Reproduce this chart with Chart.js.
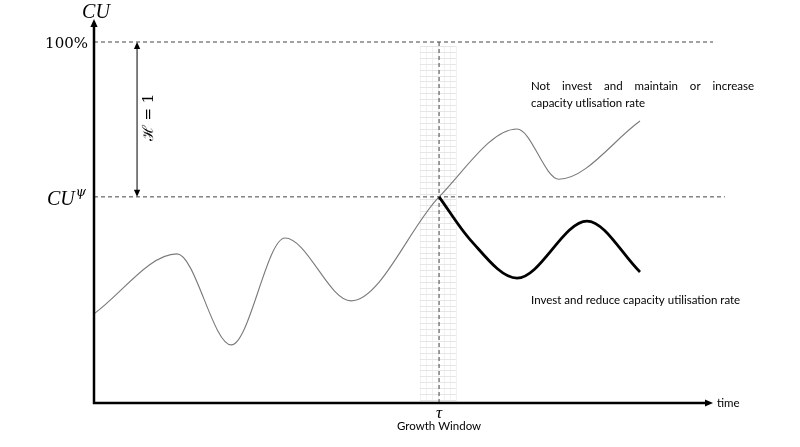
<!DOCTYPE html>
<html>
<head>
<meta charset="utf-8">
<script src="https://cdn.jsdelivr.net/npm/chart.js@4.4.0/dist/chart.umd.min.js"></script>
<style>
  html, body { margin: 0; padding: 0; background: #fff; }
  #wrap { width: 800px; height: 447px; }
</style>
</head>
<body>
<div id="wrap"><canvas id="cuChart" width="800" height="447"></canvas></div>
<script>
// Capacity utilisation paths (time 0..100, CU 0..100%)
const notInvestTime = [0, 13.3, 22.0, 30.6, 41.2, 55.3, 67.8, 74.5, 87.5];
const notInvestCU   = [24.7, 41.3, 16.1, 45.7, 28.3, 57.1, 75.9, 62.0, 78.1];
const investTime    = [55.3, 60.3, 67.8, 79.0, 87.5];
const investCU      = [57.1, 45.2, 34.6, 50.4, 36.3];

// Reference levels and the growth window
const tau = 55.3;
const cuPsi = 57.1;
const cuFull = 100;
const growthWindow = [52.2, 58.0];
const fullLineEnd = 99.2;
const psiLineEnd = 101.1;
const axisEnd = 99.2;
const axisTop = 106.4;
const hArrowTime = 6.9;

const toPoints = (xs, ys) => xs.map((x, i) => ({ x: x, y: ys[i] }));

function arrowHead(ctx, x, y, angle, size) {
  ctx.save();
  ctx.translate(x, y);
  ctx.rotate(angle);
  ctx.beginPath();
  ctx.moveTo(0, 0);
  ctx.lineTo(-size, -size * 0.45);
  ctx.lineTo(-size, size * 0.45);
  ctx.closePath();
  ctx.fill();
  ctx.restore();
}

function justifiedLine(ctx, text, x0, x1, y) {
  const words = text.split(' ');
  const widths = words.map(w => ctx.measureText(w).width);
  const total = widths.reduce((a, b) => a + b, 0);
  const gap = (x1 - x0 - total) / (words.length - 1);
  let x = x0;
  words.forEach((w, i) => {
    ctx.fillText(w, x, y);
    x += widths[i] + gap;
  });
}

// Background grid of the growth window
const windowPlugin = {
  id: 'growthWindow',
  beforeDatasetsDraw(chart) {
    const { ctx, scales: { x, y } } = chart;
    const left = x.getPixelForValue(growthWindow[0]);
    const right = x.getPixelForValue(growthWindow[1]);
    const top = y.getPixelForValue(cuFull);
    const bottom = y.getPixelForValue(0) - 2;
    ctx.save();
    ctx.lineWidth = 1;
    ctx.strokeStyle = '#f1f1f1';
    ctx.beginPath();
    const cols = 6;
    for (let i = 0; i <= cols; i++) {
      const px = Math.round(left + (right - left) * i / cols) + 0.5;
      ctx.moveTo(px, top + 4);
      ctx.lineTo(px, bottom);
    }
    ctx.stroke();
    ctx.strokeStyle = '#e6e6e6';
    ctx.beginPath();
    for (let py = top + 4; py < bottom; py += 5.9) {
      ctx.moveTo(left, Math.round(py) + 0.5);
      ctx.lineTo(right, Math.round(py) + 0.5);
    }
    ctx.stroke();
    ctx.restore();
  }
};

// Axes, arrows and all the annotation text
const sketchPlugin = {
  id: 'sketch',
  afterDatasetsDraw(chart) {
    const { ctx, scales: { x, y } } = chart;
    const x0 = x.getPixelForValue(0);
    const y0 = y.getPixelForValue(0);
    const xEnd = x.getPixelForValue(axisEnd);
    const yTop = y.getPixelForValue(axisTop);
    ctx.save();
    ctx.fillStyle = '#000';
    ctx.strokeStyle = '#000';

    // main axes
    ctx.lineWidth = 2.5;
    ctx.beginPath();
    ctx.moveTo(x0, yTop + 6);
    ctx.lineTo(x0, y0);
    ctx.lineTo(xEnd - 6, y0);
    ctx.stroke();
    arrowHead(ctx, x0, yTop, -Math.PI / 2, 8);
    arrowHead(ctx, xEnd, y0, 0, 8);

    // H = 1 double arrow
    const hx = x.getPixelForValue(hArrowTime);
    const hTop = y.getPixelForValue(cuFull);
    const hBot = y.getPixelForValue(cuPsi);
    ctx.lineWidth = 1;
    ctx.beginPath();
    ctx.moveTo(hx, hTop + 5);
    ctx.lineTo(hx, hBot - 5);
    ctx.stroke();
    arrowHead(ctx, hx, hTop, -Math.PI / 2, 7);
    arrowHead(ctx, hx, hBot, Math.PI / 2, 7);

    ctx.save();
    ctx.translate(hx + 12, (hTop + hBot) / 2 - 2);
    ctx.rotate(-Math.PI / 2);
    ctx.font = '15px "DejaVu Serif"';
    ctx.textAlign = 'center';
    ctx.textBaseline = 'middle';
    ctx.fillText('\u210B = 1', 0, 0);
    ctx.restore();

    // axis labels
    ctx.textBaseline = 'alphabetic';
    ctx.font = 'italic 20px "Liberation Serif"';
    ctx.textAlign = 'center';
    ctx.fillText('CU', x0 + 2, yTop - 1);

    ctx.font = '15px "DejaVu Serif"';
    ctx.textAlign = 'right';
    ctx.fillText('100%', x0 - 6, y.getPixelForValue(cuFull) + 6);

    const psiY = y.getPixelForValue(cuPsi) + 8;
    ctx.font = 'italic 13px "DejaVu Serif"';
    ctx.fillText('\u03C8', x0 - 8, psiY - 9);
    const psiW = ctx.measureText('\u03C8').width;
    ctx.font = 'italic 20px "Liberation Serif"';
    ctx.fillText('CU', x0 - 9 - psiW, psiY);

    const tx = x.getPixelForValue(tau);
    ctx.textAlign = 'center';
    ctx.font = 'italic 17px "Liberation Serif"';
    ctx.fillText('\u03C4', tx, y0 + 15);
    ctx.font = '11.5px Lato';
    ctx.fillText('Growth Window', tx, y0 + 27);

    ctx.textAlign = 'left';
    ctx.textBaseline = 'middle';
    ctx.font = '11.5px Lato';
    ctx.fillText('time', xEnd + 4, y0);

    // path descriptions
    ctx.textBaseline = 'alphabetic';
    ctx.font = '11.5px Lato';
    const lx = 531;
    justifiedLine(ctx, 'Not invest and maintain or increase', lx, 754, 90);
    ctx.fillText('capacity utlisation rate', lx, 107);
    ctx.fillText('Invest and reduce capacity utilisation rate', lx, 304);
    ctx.restore();
  }
};

const dashed = {
  borderColor: '#444',
  borderWidth: 1,
  borderDash: [4, 3],
  pointRadius: 0,
  fill: false,
  clip: false,
  order: 3
};

new Chart(document.getElementById('cuChart').getContext('2d'), {
  type: 'line',
  data: {
    datasets: [
      {
        label: 'Not invest and maintain or increase capacity utlisation rate',
        data: toPoints(notInvestTime, notInvestCU),
        borderColor: '#7a7a7a',
        borderWidth: 1.1,
        cubicInterpolationMode: 'monotone',
        pointRadius: 0,
        fill: false,
        order: 1
      },
      {
        label: 'Invest and reduce capacity utilisation rate',
        data: toPoints(investTime, investCU),
        borderColor: '#000',
        borderWidth: 2.8,
        cubicInterpolationMode: 'monotone',
        pointRadius: 0,
        fill: false,
        order: 0
      },
      Object.assign({ label: '100%', data: [{ x: 0, y: cuFull }, { x: fullLineEnd, y: cuFull }] }, dashed),
      Object.assign({ label: 'CU psi', data: [{ x: 0, y: cuPsi }, { x: psiLineEnd, y: cuPsi }] }, dashed),
      Object.assign({ label: 'tau', data: [{ x: tau, y: 0 }, { x: tau, y: cuFull }] }, dashed)
    ]
  },
  options: {
    responsive: false,
    animation: false,
    devicePixelRatio: 1,
    layout: { padding: { left: 94, right: 82, top: 42, bottom: 44 } },
    scales: {
      x: { type: 'linear', min: 0, max: 100, display: false },
      y: { type: 'linear', min: 0, max: 100, display: false }
    },
    plugins: {
      legend: { display: false },
      tooltip: { enabled: false }
    }
  },
  plugins: [windowPlugin, sketchPlugin]
});
</script>
</body>
</html>
